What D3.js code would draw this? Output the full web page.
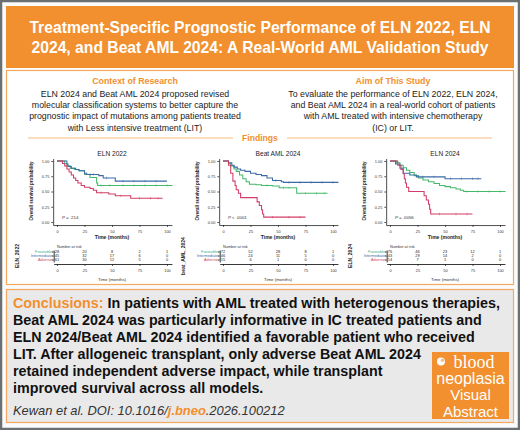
<!DOCTYPE html>
<html>
<head>
<meta charset="utf-8">
<script src="https://cdn.jsdelivr.net/npm/d3@7"></script>
<style>
  body { margin: 0; background: #fff; }
  svg { display: block; font-family: "Liberation Sans", Arial, sans-serif; }
</style>
</head>
<body>
<svg id="chart" width="520" height="430"></svg>
<script>
// ---- data ----
var panelNames = ['ELN 2022', 'Beat AML 2024', 'ELN 2024']
var tableLabels = ['ELN_2022', 'beat_AML_2024', 'ELN_2024']
var pLabels = ['= .214', '< .0001', '= .0056']
var groups = ['Favorable', 'Intermediate', 'Adverse']
var riskTimes = [0, 25, 50, 75, 100]

// [month, survival] after each step
var eln22Fav = [[0,1],[7,0.96],[9,0.92],[12,0.88],[16,0.86],[20,0.84],[25,0.78],[30,0.73],[36,0.64],[37,0.6],[105,0.6]]
var eln22Int = [[0,1],[9,0.95],[10,0.91],[13,0.88],[17,0.86],[20,0.84],[25,0.8],[27,0.78],[38,0.76],[42,0.72],[53,0.67],[100,0.67]]
var eln22Adv = [[0,1],[5,0.96],[7,0.92],[9,0.87],[11,0.82],[13,0.77],[15,0.72],[17,0.68],[19,0.64],[22,0.6],[25,0.57],[30,0.55],[33,0.52],[36,0.48],[47,0.46],[53,0.43],[67,0.39],[96,0.39]]

var beatFav = [[0,1],[5,0.96],[7,0.92],[10,0.87],[12,0.83],[15,0.77],[18,0.71],[21,0.66],[24,0.62],[30,0.61],[35,0.6],[45,0.59],[51,0.56],[67,0.47],[95,0.47]]
var beatInt = [[0,1],[5,0.97],[8,0.93],[10,0.9],[13,0.87],[16,0.85],[20,0.83],[25,0.8],[30,0.78],[35,0.76],[40,0.72],[45,0.68],[53,0.66],[55,0.65],[105,0.65]]
var beatAdv = [[0,1],[5,0.93],[7,0.8],[9,0.67],[11,0.6],[12,0.53],[14,0.47],[16,0.4],[31,0.33],[33,0.27],[35,0.2],[36,0.13],[37,0.08],[75,0.08]]

var eln24Fav = [[0,1],[6,0.97],[9,0.93],[12,0.89],[15,0.85],[18,0.81],[22,0.76],[26,0.72],[30,0.69],[35,0.66],[40,0.63],[45,0.6],[50,0.58],[55,0.56],[60,0.54],[64,0.52],[67,0.5],[105,0.5]]
var eln24Int = [[0,1],[5,0.95],[9,0.88],[12,0.8],[18,0.77],[24,0.74],[50,0.71],[83,0.71]]
var eln24Adv = [[0,1],[7,0.93],[10,0.86],[12,0.79],[13,0.71],[14,0.64],[15,0.57],[17,0.5],[31,0.43],[33,0.36],[35,0.29],[36,0.21],[37,0.13],[75,0.13]]

// censor marks (months)
var eln22Cens = [[40,48,60,70,80,90,100],[30,33,45,60,70,80,90],[40,58,75,85,92]]
var beatCens = [[40,55,60,75,85,92],[48,60,70,80,90,100],[45,60,70]]
var eln24Cens = [[70,80,90,100],[30,40,55,65,75,80],[45,60,70]]

// numbers at risk
var eln22Risk = [[28,20,8,2,1],[45,32,17,6,0],[61,30,12,5,0]]
var beatRisk = [[72,52,28,8,1],[46,24,11,5,0],[15,6,1,0,0]]
var eln24Risk = [[76,46,23,12,1],[43,29,14,2,0],[14,7,1,0,0]]

var colors = {Favorable: '#45b96a', Intermediate: '#3a6aa8', Adverse: '#d23c66'}
var labelColors = {Favorable: '#3fae8e', Intermediate: '#3a6aa8', Adverse: '#d23c66'}
var orange = '#f28f2e'

var svg = d3.select('#chart')

// ---- frame and boxes ----
svg.append('rect').attr('x', 1).attr('y', 1).attr('width', 518).attr('height', 428)
    .attr('fill', '#fbfbfb').attr('stroke', '#6a6f72').attr('stroke-width', 2.5)

svg.append('rect').attr('x', 6).attr('y', 6).attr('width', 508).attr('height', 62).attr('fill', orange)

var titleLines = ['Treatment-Specific Prognostic Performance of ELN 2022, ELN',
                  '2024, and Beat AML 2024: A Real-World AML Validation Study']
svg.selectAll('.title').data(titleLines).enter().append('text')
    .attr('x', 260).attr('y', function(d, i) { return 32.5 + i * 20 })
    .attr('text-anchor', 'middle').attr('fill', '#fff')
    .attr('font-weight', 'bold').attr('font-size', 15.7)
    .text(function(d) { return d })

svg.append('rect').attr('x', 6.5).attr('y', 70.5).attr('width', 507).attr('height', 214)
    .attr('fill', '#fff').attr('stroke', '#f5a860').attr('stroke-width', 1.2)

function block(cx, head, lines) {
    svg.append('text').attr('x', cx).attr('y', 83.5).attr('text-anchor', 'middle')
        .attr('fill', orange).attr('font-weight', 'bold').attr('font-size', 8.8).text(head)
    svg.append('g').selectAll('text').data(lines).enter().append('text')
        .attr('x', cx).attr('y', function(d, i) { return 96.5 + i * 11.4 })
        .attr('text-anchor', 'middle').attr('fill', '#222').attr('font-size', 8.8)
        .text(function(d) { return d })
}
block(135, 'Context of Research', ['ELN 2024 and Beat AML 2024 proposed revised',
    'molecular classification systems to better capture the',
    'prognostic impact of mutations among patients treated',
    'with Less intensive treatment (LIT)'])
block(393, 'Aim of This Study', ['To evaluate the performance of ELN 2022, ELN 2024,',
    'and Beat AML 2024 in a real-world cohort of patients',
    'with AML treated with intensive chemotherapy',
    '(IC) or LIT.'])

svg.append('line').attr('x1', 28).attr('x2', 233).attr('y1', 138).attr('y2', 138).attr('stroke', '#f5a860').attr('stroke-width', 0.8)
svg.append('line').attr('x1', 287).attr('x2', 492).attr('y1', 138).attr('y2', 138).attr('stroke', '#f5a860').attr('stroke-width', 0.8)
svg.append('text').attr('x', 260).attr('y', 141.2).attr('text-anchor', 'middle')
    .attr('fill', orange).attr('font-weight', 'bold').attr('font-size', 8.6).text('Findings')

// ---- survival panels ----
var panels = [
    {x0: 57, curves: [eln22Fav, eln22Int, eln22Adv], cens: eln22Cens, risk: eln22Risk},
    {x0: 223, curves: [beatFav, beatInt, beatAdv], cens: beatCens, risk: beatRisk},
    {x0: 390, curves: [eln24Fav, eln24Int, eln24Adv], cens: eln24Cens, risk: eln24Risk}
]
var axisColor = '#222'

panels.forEach(function(p, pi) {
    var g = svg.append('g')
    var x = d3.scaleLinear().domain([0, 100]).range([p.x0, p.x0 + 110])
    var y = d3.scaleLinear().domain([0, 1]).range([222, 161])
    var xa = d3.scaleLinear().domain([-3.5, 104.5]).range([x(-3.5), x(104.5)])
    var ya = d3.scaleLinear().domain([-0.05, 1.04]).range([y(-0.05), y(1.04)])

    g.append('text').attr('x', p.x0 + 55).attr('y', 155.5).attr('text-anchor', 'middle')
        .attr('font-size', 6.6).attr('fill', '#222').text(panelNames[pi])

    var yAxis = g.append('g').attr('transform', 'translate(' + x(-3.5) + ',0)')
        .call(d3.axisLeft(ya).tickValues([0, 0.25, 0.5, 0.75, 1]).tickFormat(d3.format('.2f')).tickSize(1.8).tickSizeOuter(0).tickPadding(2))
    var xAxis = g.append('g').attr('transform', 'translate(0,' + y(-0.05) + ')')
        .call(d3.axisBottom(xa).tickValues(riskTimes).tickSize(1.8).tickSizeOuter(0).tickPadding(3))
    ;[yAxis, xAxis].forEach(function(a) {
        a.selectAll('path, line').attr('stroke', axisColor).attr('stroke-width', 0.8)
        a.selectAll('text').attr('font-size', 3.9).attr('fill', '#333').attr('font-family', 'Liberation Sans, Arial')
    })

    g.append('text').attr('transform', 'translate(' + (p.x0 - 24) + ',191) rotate(-90)')
        .attr('text-anchor', 'middle').attr('font-size', 4.6).attr('font-weight', 'bold').attr('fill', '#222')
        .text('Overall survival probability')
    g.append('text').attr('x', p.x0 + 55).attr('y', 239).attr('text-anchor', 'middle')
        .attr('font-size', 5).attr('font-weight', 'bold').attr('fill', '#222').text('Time (months)')

    var line = d3.line().x(function(d) { return x(d[0]) }).y(function(d) { return y(d[1]) }).curve(d3.curveStepAfter)
    var bis = d3.bisector(function(d) { return d[0] }).right
    p.curves.forEach(function(c, ci) {
        var col = colors[groups[ci]]
        g.append('path').datum(c).attr('d', line).attr('fill', 'none')
            .attr('stroke', col).attr('stroke-width', 1.05)
        g.selectAll('.cens' + ci).data(p.cens[ci]).enter().append('line')
            .attr('x1', function(t) { return x(t) }).attr('x2', function(t) { return x(t) })
            .attr('y1', function(t) { return y(c[bis(c, t) - 1][1]) - 1.2 })
            .attr('y2', function(t) { return y(c[bis(c, t) - 1][1]) + 1.2 })
            .attr('stroke', col).attr('stroke-width', 0.5)
    })

    var pt = g.append('text').attr('x', p.x0 + 5).attr('y', 219).attr('font-size', 4.4).attr('fill', '#333')
    pt.append('tspan').attr('font-style', 'italic').text('P ')
    pt.append('tspan').text(pLabels[pi])

    // risk table
    var ry = d3.scaleBand().domain(groups).range([250, 262])
    g.append('text').attr('x', p.x0).attr('y', 247.5).attr('font-size', 3.8).attr('fill', '#333').text('Number at risk')
    var tAxisY = g.append('g').attr('transform', 'translate(' + x(-3) + ',0)')
        .call(d3.axisLeft(ry).tickSize(1.8).tickSizeOuter(0).tickFormat(''))
    var rxa = d3.scaleLinear().domain([-3, 104.5]).range([x(-3), x(104.5)])
    var tAxisX = g.append('g').attr('transform', 'translate(0,264)')
        .call(d3.axisBottom(rxa).tickValues(riskTimes).tickSize(1.8).tickSizeOuter(0).tickPadding(3))
    ;[tAxisY, tAxisX].forEach(function(a) {
        a.selectAll('path, line').attr('stroke', axisColor).attr('stroke-width', 0.9)
        a.selectAll('text').attr('font-size', 3.9).attr('fill', '#333').attr('font-family', 'Liberation Sans, Arial')
    })
    g.selectAll('.glab').data(groups).enter().append('text')
        .attr('x', p.x0 - 5).attr('y', function(d) { return ry(d) + ry.bandwidth() / 2 + 1.4 })
        .attr('text-anchor', 'end').attr('font-size', 3.8)
        .attr('fill', function(d) { return labelColors[d] }).text(function(d) { return d })
    p.risk.forEach(function(row, ri) {
        g.selectAll('.r' + ri).data(row).enter().append('text')
            .attr('x', function(d, i) { return x(riskTimes[i]) })
            .attr('y', ry(groups[ri]) + ry.bandwidth() / 2 + 1.4)
            .attr('text-anchor', 'middle').attr('font-size', 3.9).attr('fill', '#222')
            .text(function(d) { return d })
    })
    g.append('text').attr('transform', 'translate(' + (p.x0 - 38) + ',256) rotate(-90)')
        .attr('text-anchor', 'middle').attr('font-size', 5).attr('font-weight', 'bold').attr('fill', '#222')
        .text(tableLabels[pi])
    g.append('text').attr('x', p.x0 + 55).attr('y', 281).attr('text-anchor', 'middle')
        .attr('font-size', 4.4).attr('fill', '#333').text('Time (months)')
})

// ---- conclusions ----
svg.append('rect').attr('x', 6.5).attr('y', 289.5).attr('width', 507).attr('height', 133)
    .attr('fill', '#e9e9ea').attr('stroke', '#f5a860').attr('stroke-width', 1.2)

var concl = ['In patients with AML treated with heterogenous therapies,',
    'Beat AML 2024 was particularly informative in IC treated patients and',
    'ELN 2024/Beat AML 2024 identified a favorable patient who received',
    'LIT. After allogeneic transplant, only adverse Beat AML 2024',
    'retained independent adverse impact, while transplant',
    'improved survival across all models.']
concl.forEach(function(s, i) {
    var t = svg.append('text').attr('x', 13).attr('y', 308 + i * 17)
        .attr('font-size', 14.3).attr('font-weight', 'bold').attr('fill', '#111')
    if (i === 0) t.append('tspan').attr('fill', orange).text('Conclusions: ')
    t.append('tspan').text(s)
})
var cite = svg.append('text').attr('x', 13).attr('y', 414.5).attr('font-size', 12.9)
    .attr('font-style', 'italic').attr('fill', '#333')
cite.append('tspan').text('Kewan et al. DOI: 10.1016/')
cite.append('tspan').attr('fill', orange).attr('font-weight', 'bold').text('j.bneo')
cite.append('tspan').text('.2026.100212')

// badge
svg.append('rect').attr('x', 432).attr('y', 352).attr('width', 77).attr('height', 67).attr('fill', orange)
svg.append('circle').attr('cx', 441).attr('cy', 361.5).attr('r', 4).attr('fill', '#fff')
svg.append('circle').attr('cx', 442.5).attr('cy', 360.2).attr('r', 1.8).attr('fill', orange).attr('opacity', 0.6)
var badge = [['blood', 474, 367.5, 18, 'Liberation Serif, serif'], ['neoplasia', 470.5, 384, 16, 'Liberation Sans, Arial'],
             ['Visual', 470.5, 400, 15, 'Liberation Sans, Arial'], ['Abstract', 470.5, 416.5, 15, 'Liberation Sans, Arial']]
svg.selectAll('.badge').data(badge).enter().append('text')
    .attr('x', function(d) { return d[1] }).attr('y', function(d) { return d[2] })
    .attr('text-anchor', 'middle').attr('fill', '#fff')
    .attr('font-family', function(d) { return d[4] })
    .attr('font-size', function(d) { return d[3] })
    .text(function(d) { return d[0] })
</script>
</body>
</html>
